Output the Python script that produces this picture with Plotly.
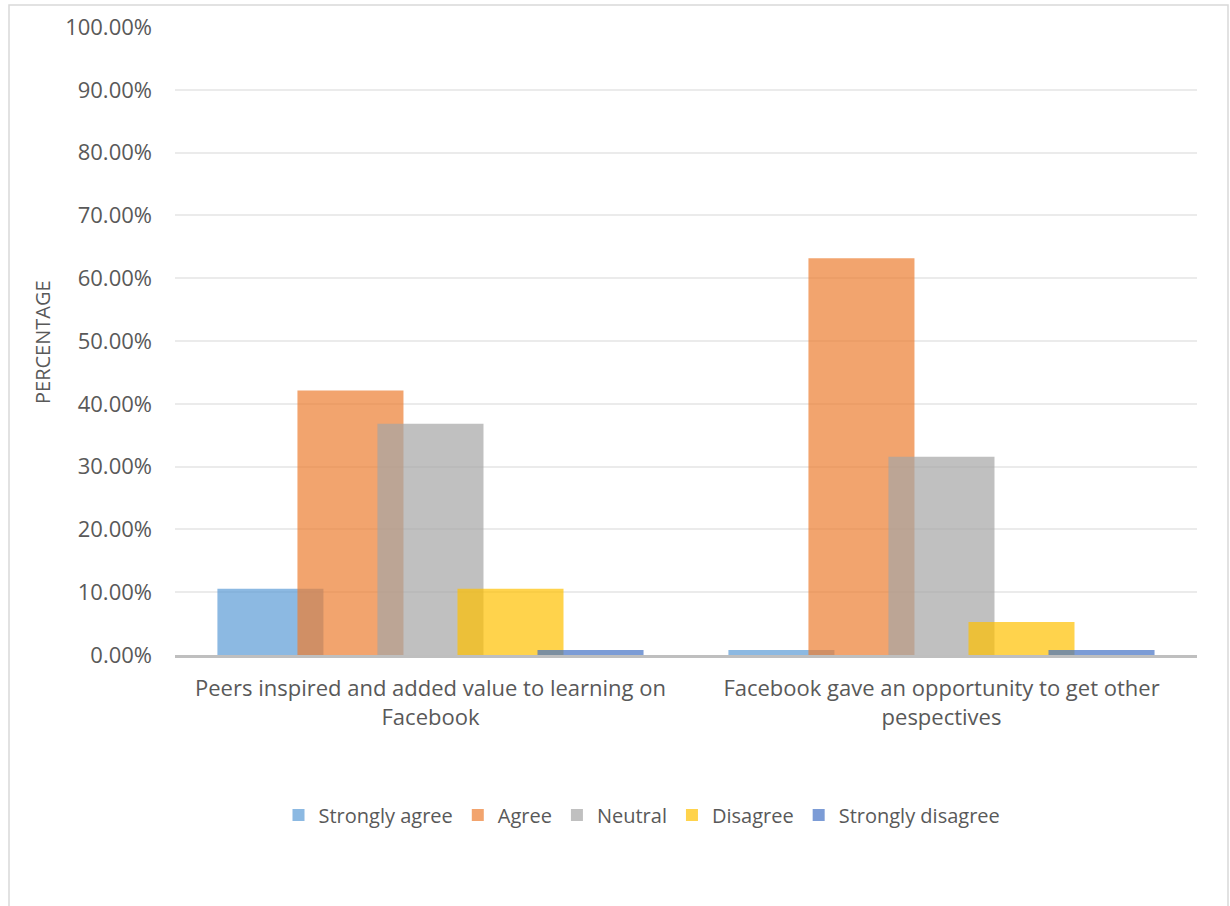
import plotly.graph_objects as go

categories = ["Peers inspired and added value to learning on<br>Facebook",
              "Facebook gave an opportunity to get other<br>pespectives"]
series_names = ["Strongly agree", "Agree", "Neutral", "Disagree", "Strongly disagree"]
strongly_agree = [10.53, 0.8]
agree = [42.11, 63.16]
neutral = [36.84, 31.58]
disagree = [10.53, 5.26]
strongly_disagree = [0.8, 0.8]
values = [strongly_agree, agree, neutral, disagree, strongly_disagree]
colors = ["rgba(91,155,213,0.7)", "rgba(237,125,49,0.7)", "rgba(165,165,165,0.7)",
          "rgba(255,192,0,0.7)", "rgba(68,114,196,0.7)"]
y_ticks = list(range(0, 101, 10))

FONT = "Open Sans, sans-serif"
W, H = 1230, 906
L, R, T, B = 175, 33, 27, 251
pw, ph = W - L - R, H - T - B

bar_w = 0.2075
step = 0.1566
start = -0.417

fig = go.Figure()
for i, (name, vals, col) in enumerate(zip(series_names, values, colors)):
    fig.add_trace(go.Bar(
        x=categories, y=vals, name=name,
        marker=dict(color=col, line=dict(width=0)),
        width=bar_w, offset=start + i * step,
    ))

fig.update_layout(
    width=W, height=H,
    margin=dict(l=L, r=R, t=T, b=B),
    barmode="overlay",
    plot_bgcolor="white", paper_bgcolor="white",
    font=dict(family=FONT, color="#595959", size=21),
    showlegend=True,
    legend=dict(orientation="h", x=(642 - L) / pw, xanchor="center",
                y=(T + ph - 815) / ph, yanchor="middle",
                font=dict(size=20, color="#595959"),
                itemwidth=30, tracegroupgap=0),
    xaxis=dict(showgrid=False, showline=True, linecolor="#BFBFBF", linewidth=3,
               ticks="", tickfont=dict(size=22, color="#595959"),
               ticklabelstandoff=12,
               range=[-0.5, 1.5]),
    yaxis=dict(range=[0, 100], tickvals=y_ticks,
               ticktext=[f"{v:.2f}%" for v in y_ticks],
               showgrid=True, gridcolor="#EBEBEB", gridwidth=1.5,
               zeroline=False, showline=False, ticks="",
               ticklabelstandoff=22,
               tickfont=dict(size=22, color="#595959")),
    annotations=[dict(text="PERCENTAGE", xref="paper", yref="paper",
                      x=(42 - L) / pw, y=(T + ph - 342) / ph,
                      textangle=-90, showarrow=False,
                      font=dict(size=20, color="#595959"),
                      xanchor="center", yanchor="middle")],
    shapes=[dict(type="rect", xref="paper", yref="paper",
                 x0=(9 - L) / pw, x1=(1228 - L) / pw,
                 y0=(T + ph - 910) / ph, y1=(T + ph - 5) / ph,
                 line=dict(color="#D9D9D9", width=1.5), fillcolor="rgba(0,0,0,0)",
                 layer="below")],
)

fig.write_html("out.html", config={"displayModeBar": False},
               post_script="document.body.style.margin='0';document.body.style.overflow='hidden';")
